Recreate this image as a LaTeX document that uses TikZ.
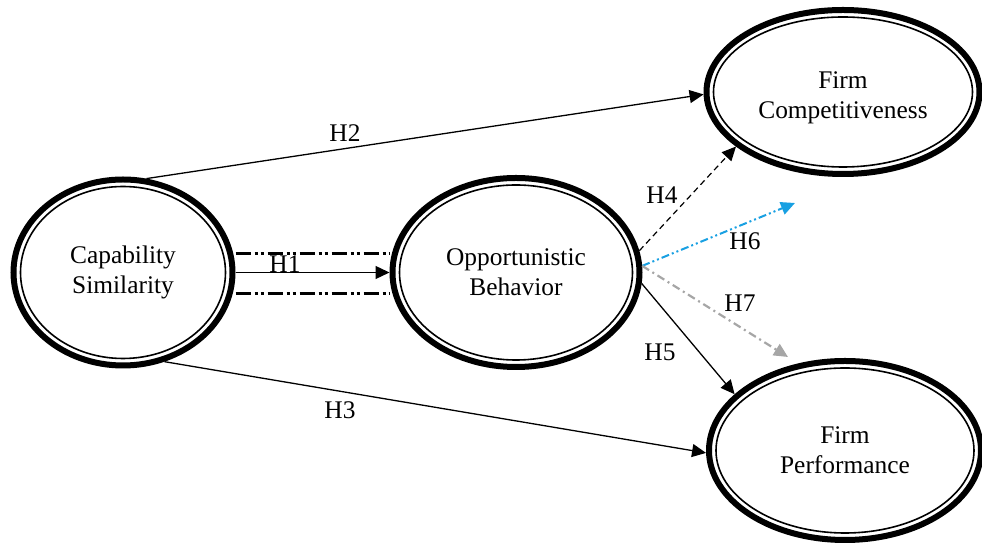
\documentclass[tikz,border=0pt]{standalone}
\usepackage{fontspec}
\setmainfont{Liberation Serif}
\usetikzlibrary{arrows.meta,shapes.geometric,calc}
\definecolor{hblue}{RGB}{24,160,226}
\definecolor{hgray}{RGB}{166,166,166}
\begin{document}
\begin{tikzpicture}[x=0.5pt,y=-0.5pt,
  latent/.style={ellipse, draw, line width=3pt, inner sep=0pt, align=center,
    font=\fontsize{12.7}{15}\selectfont},
  lab/.style={font=\fontsize{12.7}{15}\selectfont, inner sep=1pt},
  tip/.style={-{Triangle[length=7pt,width=6.5pt]}},
  conn/.style={tip, line width=0.65pt},
  band/.style={line width=1.2pt,
    dash pattern=on 7.5pt off 2pt on 1.5pt off 1.5pt on 1.5pt off 2pt},
  h4line/.style={tip, line width=0.6pt, dash pattern=on 3pt off 2pt},
  h6line/.style={tip, hblue, line width=1pt,
    dash pattern=on 4pt off 1.5pt on 1pt off 1.5pt on 1pt off 1.5pt},
  h7line/.style={tip, hgray, line width=1.1pt,
    dash pattern=on 4pt off 2pt on 1pt off 2pt},
]
\useasboundingbox (0,0) rectangle (982,544);

% constructs
\node[latent, minimum width=109.5pt, minimum height=93pt] (cs) at (123,272.5) {Capability\\Similarity};
\node[latent, minimum width=123.5pt, minimum height=94.5pt] (ob) at (516,272.5) {Opportunistic\\Behavior};
\node[latent, minimum width=136.5pt, minimum height=82pt] (fc) at (843,92) {};
\node[align=center, font=\fontsize{12.7}{15}\selectfont, inner sep=0pt] (fct) at (843,97.5) {Firm\\Competitiveness};
\node[latent, minimum width=136pt, minimum height=89.5pt] (fp) at (845,450.5) {Firm\\Performance};

% inner rings of the double outlines
\foreach \n/\a/\b in {cs/54.75/46.5, ob/61.75/47.25, fc/68.25/41, fp/68/44.75}
  \draw[line width=0.8pt] (\n.center) ellipse [x radius=\a pt-3.5pt, y radius=\b pt-3.5pt];

% free ends of the moderated paths
\coordinate (e6) at (795,203);
\coordinate (e7) at (788,357);

% paths
\draw[conn] (cs.76) -- (fc.181);
\draw[conn] (cs.-65) -- (fp.181);
\draw[conn] (cs.east) -- (ob.west);
\draw[band] ([yshift=9.5pt]cs.east) -- ([yshift=9.5pt]ob.west);
\draw[band] ([yshift=-10.5pt]cs.east) -- ([yshift=-10.5pt]ob.west);
\draw[h4line] (ob.10) -- (fc.207);
\draw[conn] (ob.-5) -- (fp.153);
\draw[h6line] (ob.3) -- (e6);
\draw[h7line] (ob.3) -- (e7);

% hypothesis labels
\node[lab] (h1) at (285,264) {H1};
\node[lab] (h2) at (345,133) {H2};
\node[lab] (h3) at (340,410) {H3};
\node[lab] (h4) at (662,195) {H4};
\node[lab] (h5) at (660,352) {H5};
\node[lab] (h6) at (745,241) {H6};
\node[lab] (h7) at (740,303) {H7};
\end{tikzpicture}
\end{document}
